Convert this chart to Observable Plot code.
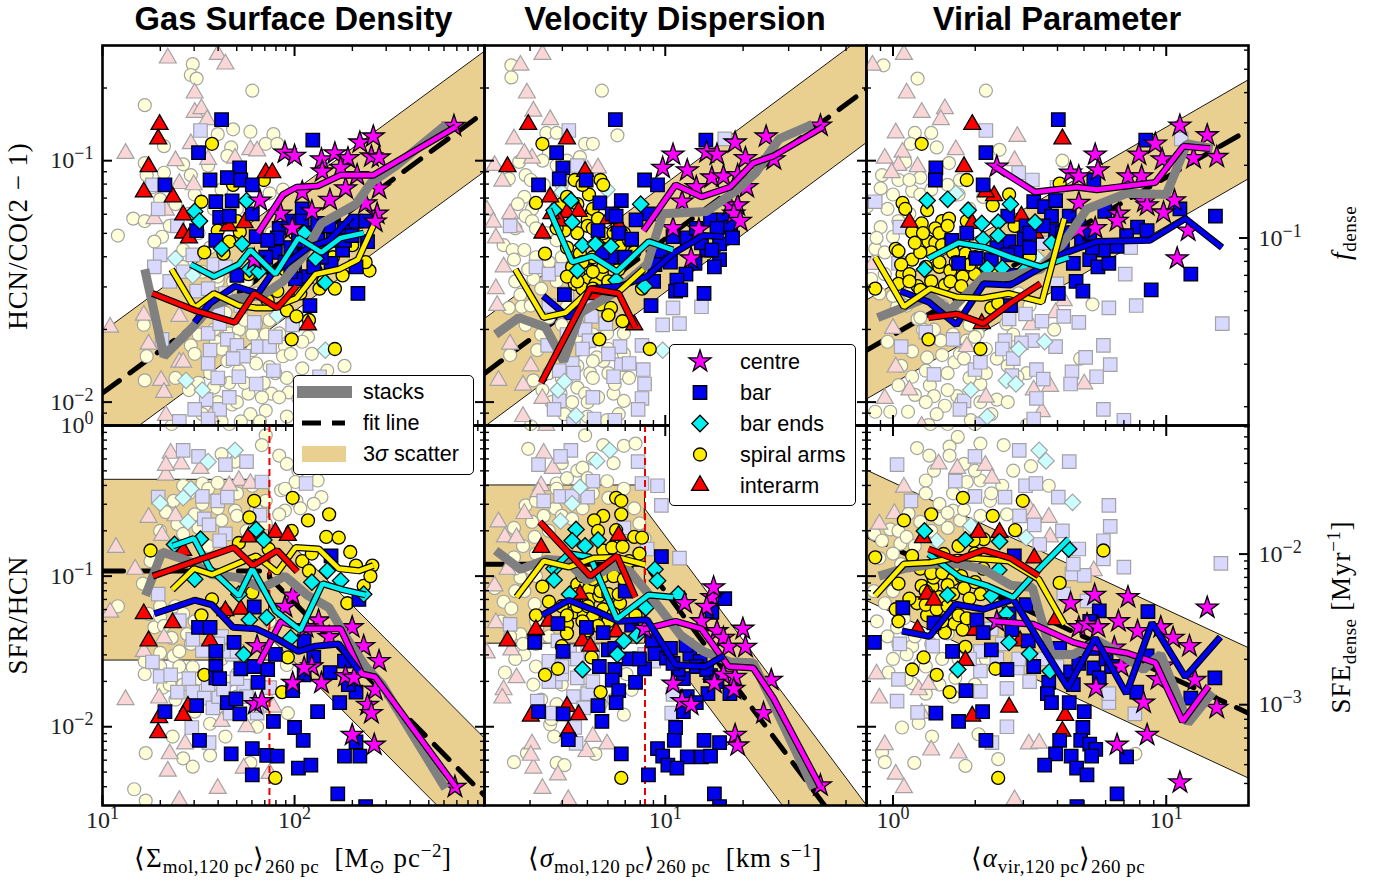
<!DOCTYPE html>
<html><head><meta charset="utf-8">
<script src="https://cdn.jsdelivr.net/npm/d3@7"></script>
<script src="https://cdn.jsdelivr.net/npm/@observablehq/plot@0.6"></script>
<style>
html,body{margin:0;background:#fff}
#c{position:relative;width:1384px;height:884px;overflow:hidden}
#c svg.plotsvg{position:absolute;left:0;top:0}
.t{position:absolute;transform:translate(-50%,-50%);white-space:nowrap;color:#000}
.title{font:bold 32.7px "Liberation Sans";line-height:1.15}
.m{font:27px "Liberation Serif";line-height:1.2;letter-spacing:.9px}
.m sub,.m sup{font-size:19px;line-height:0;letter-spacing:.5px}
.rot{transform:translate(-50%,-50%) rotate(-90deg)}
.lg{position:absolute;background:#fff;border:1.3px solid #000;border-radius:5px;box-sizing:border-box;z-index:5}
.lg div{position:absolute;font:21.6px "Liberation Sans";line-height:1;transform:translateY(-50%);white-space:nowrap;color:#000}
.lg svg{position:absolute;left:0;top:0;overflow:visible}
</style></head><body><div id="c"></div>
<script>
// ---- values are log10(x), log10(y) pairs ----
// stacks + running medians, top-left (HCN/CO vs Sigma)
const stacksTL=[[1.22,-1.45],[1.32,-1.81],[1.47,-1.69],[1.57,-1.6],[1.69,-1.57],[1.83,-1.56],[1.94,-1.5],[2.04,-1.4],[2.14,-1.26],[2.32,-1.18],[2.4,-1.09],[2.53,-1.02],[2.79,-.85]];
const lineCentreTL=[[1.81,-1.3],[1.94,-1.14],[2.01,-1.11],[2.12,-1.105],[2.24,-1.06],[2.41,-1.06],[2.84,-.86]];
const lineBarTL=[[1.48,-1.67],[1.56,-1.59],[1.69,-1.52],[1.81,-1.55],[1.88,-1.47],[1.97,-1.42],[2.07,-1.36],[2.18,-1.33],[2.3,-1.23]];
const lineEndsTL=[[1.46,-1.43],[1.58,-1.48],[1.71,-1.43],[1.77,-1.37],[1.9,-1.47],[2.02,-1.32],[2.14,-1.38],[2.24,-1.32],[2.36,-1.3]];
const lineArmTL=[[1.36,-1.45],[1.48,-1.61],[1.58,-1.55],[1.71,-1.6],[1.8,-1.61],[1.88,-1.61],[2.01,-1.57],[2.11,-1.47],[2.23,-1.45],[2.33,-1.41],[2.41,-1.27]];
const lineInterTL=[[1.26,-1.55],[1.48,-1.62],[1.69,-1.67],[1.79,-1.55],[1.91,-1.61],[2.01,-1.52]];
// top-centre
const stacksTC=[[.344,-1.72],[.434,-1.65],[.537,-1.69],[.607,-1.83],[.672,-1.63],[.8,-1.55],[.93,-1.43],[.99,-1.22],[1.16,-1.21],[1.28,-1.12],[1.35,-1.05],[1.44,-.91],[1.57,-.85]];
const lineCentreTC=[[.916,-1.29],[1.04,-1.1],[1.14,-1.15],[1.25,-1.11],[1.34,-1.01],[1.42,-.98],[1.61,-.86]];
const lineBarTC=[[.528,-1.56],[.627,-1.65],[.71,-1.53],[.826,-1.52],[.929,-1.48],[1.03,-1.385],[1.148,-1.31],[1.225,-1.315]];
const lineEndsTC=[[.55,-1.2],[.64,-1.42],[.717,-1.395],[.813,-1.46],[.936,-1.335],[1.03,-1.37]];
const lineArmTC=[[.42,-1.45],[.53,-1.65],[.614,-1.63],[.71,-1.535],[.813,-1.55],[.916,-1.45]];
const lineInterTC=[[.52,-1.92],[.71,-1.53],[.82,-1.55],[.884,-1.69]];
// top-right
const stacksTR=[[-.056,-1.65],[.033,-1.61],[.137,-1.56],[.21,-1.62],[.332,-1.48],[.417,-1.48],[.54,-1.45],[.624,-1.34],[.71,-1.2],[.856,-1.135],[1,-1.14],[1.075,-.93],[1.17,-.95]];
const lineCentreTR=[[.374,-1.025],[.52,-1.13],[.673,-1.11],[.746,-1.12],[.96,-1.09],[1.063,-.94],[1.16,-.95]];
const lineBarTR=[[.027,-1.54],[.13,-1.585],[.232,-1.68],[.332,-1.51],[.43,-1.515],[.545,-1.44],[.624,-1.385],[.746,-1.335],[.94,-1.33],[1.07,-1.24],[1.204,-1.36]];
const lineEndsTR=[[.13,-1.405],[.24,-1.34],[.338,-1.36],[.43,-1.4],[.54,-1.44],[.643,-1.4]];
const lineArmTR=[[-.065,-1.4],[.04,-1.605],[.137,-1.53],[.235,-1.565],[.325,-1.57],[.423,-1.55],[.545,-1.585],[.627,-1.24]];
const lineInterTR=[[.13,-1.65],[.235,-1.635],[.33,-1.675],[.43,-1.59],[.54,-1.51]];
// bottom-left
const stacksBL=[[1.224,-1.13],[1.31,-.84],[1.45,-.9],[1.57,-.99],[1.71,-1.01],[1.83,-1.08],[1.95,-1],[2.07,-1.13],[2.18,-1.21],[2.28,-1.43],[2.37,-1.6],[2.456,-1.72],[2.786,-2.41]];
const lineCentreBL=[[1.815,-1.58],[1.93,-1.3],[2.04,-1.35],[2.24,-1.35],[2.35,-1.65],[2.42,-1.67],[2.84,-2.4]];
const lineBarBL=[[1.27,-1.25],[1.48,-1.16],[1.57,-1.19],[1.68,-1.34],[1.8,-1.35],[1.9,-1.41],[2.02,-1.5],[2.11,-1.465],[2.23,-1.45],[2.335,-1.63]];
const lineEndsBL=[[1.366,-.8],[1.476,-.75],[1.56,-.95],[1.71,-1.13],[1.78,-.95],[1.9,-1.23],[2.03,-1.36],[2.145,-1.05],[2.25,-1.09],[2.37,-1.125]];
const lineArmBL=[[1.363,-1.09],[1.476,-.95],[1.57,-.99],[1.8,-.865],[1.91,-.975],[2.005,-.81],[2.127,-.82],[2.23,-.95],[2.335,-.965],[2.41,-.93]];
const lineInterBL=[[1.262,-1],[1.684,-.81],[1.783,-.93],[1.91,-.83],[2.014,-.97]];
// bottom-centre
const stacksBC=[[.344,-.83],[.44,-.955],[.54,-.89],[.62,-.9],[.695,-1.03],[.8,-.93],[.864,-.97],[.955,-1.16],[1.058,-1.39],[1.148,-1.5],[1.25,-1.57],[1.34,-1.575],[1.418,-1.85],[1.573,-2.41]];
const lineCentreBC=[[.916,-1.354],[1.04,-1.3],[1.14,-1.35],[1.245,-1.6],[1.34,-1.61],[1.418,-1.81],[1.6,-2.4]];
const lineBarBC=[[.524,-1.26],[.627,-1.16],[.73,-1.23],[.82,-1.3],[.93,-1.29],[1.04,-1.59],[1.154,-1.6],[1.225,-1.53]];
const lineEndsBC=[[.56,-.96],[.627,-.85],[.71,-.875],[.813,-1.285],[.936,-1.125],[1.03,-1.14]];
const lineArmBC=[[.425,-1.14],[.53,-.9],[.627,-.94],[.723,-.88],[.813,-.875],[.923,-.925]];
const lineInterBC=[[.515,-.64],[.71,-1],[.813,-.865],[.884,-1.14]];
// bottom-right
const stacksBR=[[-.052,-1],[.04,-.95],[.148,-.92],[.246,-.92],[.332,-.955],[.43,-1.06],[.51,-1.075],[.58,-1.52],[.66,-1.52],[.75,-1.43],[.82,-1.5],[.917,-1.62],[.98,-1.52],[1.08,-1.975],[1.17,-1.77]];
const lineCentreBR=[[.374,-1.3],[.515,-1.32],[.66,-1.44],[.734,-1.476],[.856,-1.51],[.96,-1.575],[1.06,-1.965],[1.155,-1.73]];
const lineBarBR=[[.033,-1.364],[.134,-1.4],[.228,-1.187],[.332,-1.22],[.44,-1.153],[.64,-1.74],[.74,-1.41],[.854,-1.78],[.948,-1.31],[1.07,-1.67],[1.198,-1.404]];
const lineEndsBR=[[.13,-.853],[.246,-1.01],[.344,-1.064],[.44,-1.142],[.54,-.942],[.643,-.753]];
const lineArmBR=[[-.065,-1.13],[.04,-.92],[.137,-.91],[.235,-.875],[.332,-.887],[.423,-.9],[.533,-1.02],[.627,-1.32]];
const lineInterBR=[[.13,-.82],[.235,-.893],[.332,-.827],[.43,-.88],[.533,-.998]];

// ---- faint points ----
const faintArmTL=[[1.47,-.6],[1.46,-.645],[1.49,-.66],[1.78,-.71],[1.22,-.77],[1.68,-.87],[1.6,-.89],[1.77,-.88],[1.89,-.89],[1.85,-.93],[1.91,-.93],[1.67,-.945],[1.65,-.98],[1.32,-.94],[1.22,-1.01],[1.42,-1.015],[1.46,-1.06],[1.32,-1.05],[1.23,-1.06],[1.48,-1.14],[1.26,-1.11],[1.16,-1.24],[1.22,-1.25],[1.08,-1.31],[1.31,-1.315],[1.27,-1.335],[1.87,-1.135],[1.745,-1.19],[1.94,-1.12],[1.42,-1.37],[1.215,-1.68],[1.23,-1.81],[1.22,-1.91],[1.46,-1.765],[1.59,-1.75],[1.66,-1.715],[1.71,-1.7],[1.87,-1.66],[1.92,-1.715],[1.95,-1.77],[2.07,-1.73],[2.04,-1.75],[2.09,-1.8],[2.26,-1.85],[2.04,-1.86],[2.17,-1.87],[1.96,-1.9],[1.97,-1.96],[2.02,-1.985],[1.88,-1.965],[1.76,-1.965],[1.83,-1.98],[1.66,-1.92],[1.61,-1.91],[1.675,-2.01],[1.77,-2.05],[1.85,-2.035],[1.96,-2.06],[1.65,-1.83],[1.56,-1.88],[1.94,-1.81],[1.36,-2.1],[1.62,-2.08],[1.48,-1.8],[1.78,-1.785],[1.87,-1.855],[1.71,-1.87],[1.8,-1.675],[1.62,-1.645],[1.73,-1.81],[1.69,-1.745],[1.83,-1.74],
[1.3,-1.16],[1.38,-1.18],[1.45,-1.22],[1.35,-1.27],[1.5,-1.3],[1.56,-1.36],[1.42,-1.44],[1.52,-1.46],[1.6,-1.5],[1.68,-1.5],[1.75,-1.5],[1.72,-1.58],[1.8,-1.55],[1.55,-1.62],[1.64,-1.63],[1.74,-1.66],[1.85,-1.72],[1.92,-1.62],[1.78,-1.72],[1.58,-1.7],[1.5,-1.72],[1.62,-1.78],[1.68,-1.82],[1.8,-1.84],[1.9,-1.88],[1.98,-1.8],[1.74,-1.92],[1.58,-1.94],[1.5,-1.92],[1.84,-1.92],[1.92,-1.98],[1.7,-2],[1.6,-2],[1.52,-2.05],[1.45,-1.95],[1.38,-1.9],[1.82,-2.08],[1.72,-2.08],[1.6,-1.48],[1.96,-1.38],[1.88,-1.3],[1.7,-1.2],[1.62,-1.12],[1.55,-1.02],[1.7,-1.08],[1.58,-1.2]];
const faintBarTL=[[1.51,-.875],[1.26,-1.1],[1.29,-1.2],[1.39,-1.27],[1.3,-1.39],[1.27,-1.44],[1.47,-1.39],[1.58,-1.43],[1.49,-1.54],[1.31,-1.74],[1.55,-1.715],[1.65,-1.74],[1.7,-1.765],[1.81,-1.77],[1.87,-1.77],[1.56,-1.785],[1.735,-1.81],[1.55,-1.84],[1.71,-1.895],[1.8,-1.925],[1.89,-1.87],[1.54,-1.99],[1.48,-2.03],[1.61,-2.03],[1.55,-2.07],[1.4,-2.08],[1.9,-1.73],[1.99,-1.68],[1.79,-1.67],[1.61,-1.675],[2.13,-1.895],[1.55,-1.53],[1.64,-1.55],[1.72,-1.6],[1.6,-1.62],[1.52,-1.62],[1.35,-1.5],[1.42,-1.46],[1.64,-1.44],[1.68,-1.82],[1.6,-1.9],[1.66,-1.98]];
const faintInterTL=[[1.34,-.575],[1.6,-.56],[1.64,-.6],[1.48,-.72],[1.48,-.8],[1.515,-.785],[1.545,-.83],[1.12,-.97],[1.46,-.93],[1.55,-.995],[1.77,-.955],[1.805,-.96],[1.69,-.99],[1.38,-1],[1.4,-1.095],[1.475,-1.1],[1.33,-1.205],[1.27,-1.24],[1.04,-1.69],[1.215,-1.64],[1.4,-1.645],[1.24,-1.76],[1.4,-1.835],[1.305,-1.91],[1.32,-1.96],[1.33,-2.055],[1.565,-2.06],[1.42,-1.835]];
const faintEndsTL=[[1.38,-1.405],[1.47,-1.475],[2.16,-1.785],[1.435,-1.91],[1.52,-1.95],[1.91,-1.64]];
const faintArmTC=[[.405,-.605],[.405,-.655],[.755,-.71],[.815,-.895],[.54,-.885],[.58,-.885],[.69,-.93],[.72,-.93],[.67,-.985],[.55,-.97],[.435,-1.005],[.525,-1],[.46,-1.06],[.395,-1.075],[.455,-1.15],[.43,-1.18],[.485,-1.2],[.46,-1.23],[.485,-1.25],[.375,-1.35],[.41,-1.37],[.455,-1.37],[.415,-1.41],[.49,-1.49],[.44,-1.555],[.445,-1.605],[.395,-1.61],[.505,-1.785],[.4,-1.805],[.49,-1.91],[.525,-1.95],[.66,-1.94],[.69,-1.965],[.8,-1.965],[.84,-1.995],[.805,-1.925],[.76,-1.83],[.735,-1.815],[.84,-1.715],[.71,-1.88],[.72,-1.83],[.775,-1.715],[.63,-2.01],[.61,-2.05],[.7,-2.06],[.775,-2.075],[.48,-2.1],[.66,-1.675],[.62,-1.605],[.67,-1.745],[.595,-1.965],[.825,-1.88],
[.48,-1.08],[.53,-1.1],[.58,-1.02],[.62,-1],[.5,-1.28],[.54,-1.3],[.58,-1.33],[.5,-1.4],[.55,-1.42],[.47,-1.45],[.6,-1.4],[.42,-1.5],[.52,-1.53],[.58,-1.5],[.48,-1.6],[.55,-1.65],[.6,-1.68],[.52,-1.72],[.46,-1.68],[.66,-1.73],[.72,-1.72],[.78,-1.78],[.84,-1.8],[.72,-1.9],[.66,-1.85],[.6,-1.9],[.55,-1.88],[.78,-1.88],[.86,-1.9],[.74,-1.98],[.64,-2],[.56,-2],[.7,-2],[.82,-2.05],[.6,-1.1],[.64,-1.05],[.42,-1.28]];
const faintBarTC=[[.627,-.875],[1.23,-.91],[.4,-1.27],[.5,-1.44],[.55,-1.47],[.715,-1.645],[1.03,-1.61],[.99,-1.68],[1.055,-1.675],[1.14,-1.605],[.69,-1.7],[.705,-1.745],[.825,-1.77],[.91,-1.765],[.83,-1.845],[.64,-1.84],[.59,-1.87],[.645,-1.88],[.8,-1.895],[.915,-1.865],[.92,-1.925],[.91,-1.985],[.59,-1.995],[.57,-2.03],[.895,-2.03],[.725,-2.07],[.805,-2.075],[.645,-2.09],[.77,-1.675],[.545,-1.765],[.62,-1.55],[.55,-1.6],[.62,-1.72],[.72,-1.58],[.78,-1.62],[.78,-1.8],[.72,-1.98],[.68,-1.78],[.86,-1.84],[.6,-1.45],[.66,-1.02]];
const faintInterTC=[[.525,-.56],[.44,-.605],[.465,-.72],[.49,-.795],[.555,-.83],[.415,-.91],[.34,-1.02],[.485,-.99],[.37,-1.085],[.31,-1.205],[.335,-1.255],[.4,-1.22],[.42,-1.275],[.345,-1.32],[.375,-1.44],[.345,-1.53],[.35,-1.6],[.4,-1.76],[.48,-1.85],[.355,-1.91],[.45,-1.93],[.525,-1.985],[.45,-2.06],[.7,-1.04],[.74,-1.03],[.455,-.97]];
const faintEndsTC=[[.99,-1.785],[.585,-1.95],[.61,-1.915],[.655,-2.055],[.775,-1.12],[.6,-1.13]];
const faintArmTR=[[-.035,-.605],[.09,-.66],[.34,-.71],[.08,-.885],[.14,-.885],[.065,-.93],[.16,-.945],[.39,-.955],[.045,-1.005],[.205,-1.01],[.62,-1],[-.04,-1.06],[.1,-1.07],[-.045,-1.115],[0,-1.14],[.07,-1.125],[.245,-1.08],[-.095,-1.19],[-.065,-1.365],[-.08,-1.49],[.73,-1.595],[.685,-1.82],[.59,-1.7],[.16,-1.735],[.31,-1.715],[.11,-1.7],[-.02,-1.75],[.07,-1.79],[.03,-1.85],[.125,-1.815],[.18,-1.805],[.225,-1.835],[.07,-1.895],[.135,-1.93],[.15,-1.975],[.235,-1.975],[.32,-1.925],[.38,-1.99],[.42,-2],[.19,-2.015],[-.065,-2.04],[-.01,-2.04],[.055,-2.04],[.285,-2.075],[.13,-2.095],[.49,-2.095],[.49,-1.88],[.455,-1.895],[.245,-1.8],[.175,-1.745],[.09,-1.655],[.015,-1.605],[.31,-1.88],[.27,-1.745],[-.045,-1.275],[0,-1.315],[.415,-1.675],
[.02,-1.08],[.06,-1.08],[.1,-1.14],[.14,-1.12],[.2,-1.1],[.24,-1.14],[-.02,-1.2],[.02,-1.25],[.06,-1.22],[-.06,-1.32],[-.03,-1.38],[.03,-1.43],[-.03,-1.47],[-.05,-1.55],[0,-1.56],[.05,-1.6],[.1,-1.65],[.15,-1.7],[.22,-1.72],[.28,-1.68],[.34,-1.78],[.38,-1.82],[.26,-1.82],[.2,-1.88],[.12,-1.87],[.02,-1.93],[.08,-1.97],[.2,-1.95],[.28,-1.9],[.34,-1.88],[.42,-1.85],[.25,-2],[.32,-2],[.12,-2],[.16,-2.05],[.36,-2.05],[.28,-1.2],[.33,-1.15],[.06,-1.55],[.18,-1.6],[.26,-1.6],[.3,-1.73],[.44,-1.72],[.5,-1.6],[.46,-1.55]];
const faintBarTR=[[.34,-.875],[-.065,-1.17],[.025,-1.275],[.02,-1.425],[.46,-1.05],[.51,-1.08],[.6,-1.11],[1.055,-.91],[.545,-1.34],[.87,-1.36],[.85,-1.47],[.6,-1.51],[.79,-1.61],[.89,-1.6],[1.205,-1.675],[.625,-1.645],[.68,-1.67],[.545,-1.665],[.485,-1.635],[.425,-1.655],[.77,-1.765],[.705,-1.815],[.795,-1.845],[.745,-1.895],[.655,-1.875],[.65,-1.925],[.595,-1.77],[.51,-1.745],[.47,-1.755],[.41,-1.745],[.4,-1.78],[.44,-1.82],[.03,-1.77],[.22,-1.74],[.12,-1.71],[.3,-1.865],[.15,-1.885],[.525,-1.865],[.55,-1.905],[.435,-1.89],[.525,-1.985],[.26,-1.995],[.245,-2.03],[.77,-2.03],[.845,-2.075],[.515,-2.07],[.325,-2.09],[.32,-1.835]];
const faintInterTR=[[.04,-.56],[-.075,-.605],[.05,-.72],[.105,-.8],[.19,-.785],[.175,-.83],[.01,-.885],[.455,-.9],[.23,-.955],[.035,-.965],[-.03,-.99],[.09,-1.025],[.02,-1.02],[-.005,-1.05],[.445,-1],[-.075,-1.43],[.625,-1.58],[.595,-1.63],[.505,-1.68],[0,-1.695],[.27,-1.77],[.01,-1.855],[.06,-1.95],[.34,-1.98],[.7,-1.925],[.575,-1.935],[.515,-1.95],[-.03,-1.985],[.545,-2.04],[.105,-2.1]];
const faintEndsTR=[[.23,-1.135],[.525,-1.4],[.555,-1.75],[.415,-1.91],[.45,-1.925],[.285,-1.95],[.345,-2.06],[.46,-1.78]];
const faintArmBL=[[1.36,.01],[1.66,.01],[1.85,-.065],[1.83,-.13],[1.92,-.2],[1.96,-.255],[1.62,-.19],[1.69,-.24],[2.02,-.3],[2.12,-.365],[2.005,-.375],[1.93,-.43],[1.52,-.385],[2.14,-.475],[2.1,-.52],[2.01,-.5],[1.95,-.565],[1.92,-.59],[1.37,-.5],[1.33,-.575],[1.62,-.63],[1.69,-.565],[1.39,-.655],[1.48,-.59],[1.21,-1.05],[1.08,-1.2],[1.27,-1.34],[1.44,-1.385],[1.3,-1.51],[1.37,-1.53],[1.22,-1.565],[1.22,-1.65],[1.47,-1.605],[1.315,-1.74],[1.56,-1.98],[1.365,-2.065],[1.64,-2.065],[1.225,-2.175],[1.42,-2.21],[1.47,-2.265],[1.56,-2.19],[1.77,-2.24],[1.165,-2.415],[1.225,-2.49],[1.965,-1.91],[1.805,-2],[1.87,-1.3],[1.96,-1.59],[1.4,-1.3],[1.36,-1.41],
[1.45,-.45],[1.52,-.52],[1.6,-.55],[1.7,-.45],[1.78,-.4],[1.85,-.5],[1.85,-.65],[1.75,-.7],[1.5,-.68],[1.42,-.72],[1.3,-.7],[1.25,-.9],[1.3,-1.2],[1.24,-1.25],[1.3,-1.27],[1.32,-1.33],[1.38,-1.2],[1.42,-1.25],[1.46,-1.45],[1.4,-1.5],[1.3,-1.6],[1.4,-1.6],[1.5,-1.68],[1.42,-1.72],[1.35,-1.72],[1.65,-1.7],[1.7,-1.65],[1.62,-1.55],[1.7,-.6],[1.95,-.42],[2.03,-.55],[1.8,-.56],[1.55,-.8],[1.48,-1.3],[1.55,-1.78],[1.38,-1.82],[1.48,-1.9],[1.6,-1.87],[1.7,-1.8],[1.85,-1.8],[1.55,-.42],[1.42,-.4],[1.6,-.38]];
const faintBarBL=[[1.42,-.165],[1.5,-.205],[1.64,-.26],[1.75,-.24],[1.83,-.375],[2.06,-.385],[1.29,-.475],[1.52,-.47],[1.6,-.5],[1.65,-.475],[1.82,-.595],[1.53,-.62],[1.555,-.66],[1.64,-.72],[1.61,-.765],[1.29,-1.12],[1.4,-1.295],[1.52,-1.495],[1.26,-1.57],[1.3,-1.665],[1.355,-1.655],[1.39,-1.77],[1.47,-1.77],[1.53,-1.81],[1.575,-1.875],[1.465,-2.005],[1.555,-2.105],[1.735,-1.73],[1.675,-1.52],[1.805,-1.91],[1.87,-1.74],[1.665,-1.91],[1.605,-1.8],[1.66,-1.5],[1.7,-1.5],[1.62,-1.4],[1.6,-1.45],[1.7,-1.68],[1.63,-1.75],[1.55,-1.72],[1.45,-1.68],[1.75,-1.8],[1.8,-1.86],[1.47,-1.42]];
const faintInterBL=[[1.56,.03],[1.355,-.185],[1.41,-.255],[1.51,-.285],[1.33,-.33],[1.33,-.265],[1.71,-.365],[1.66,-.4],[1.24,-.61],[1.31,-.73],[1.07,-.81],[1.17,-.955],[1.04,-1.24],[1.32,-1.41],[1.215,-1.5],[1.12,-1.82],[1.295,-1.81],[1.62,-1.965],[1.75,-2],[1.89,-1.87],[1.43,-2.115],[1.35,-2.18],[1.34,-2.295],[1.735,-2.275],[1.87,-2.31],[1.6,-2.41],[1.4,-2.49],[1.77,-.385],[1.38,-.6]];
const faintEndsBL=[[1.69,-.165],[1.55,-.24],[1.46,-.42],[1.42,-.48],[1.445,-.64],[1.3,-.515]];
const faintArmBC=[[.48,.01],[.69,-.065],[.47,-.155],[.76,-.13],[.84,-.135],[.885,-.12],[.8,-.25],[.66,-.3],[.775,-.37],[.58,-.385],[.6,-.25],[.415,-.68],[.485,-.64],[.46,-.53],[.575,-.55],[.495,-.74],[.34,-1.08],[.375,-1.17],[.405,-1.215],[.455,-1.1],[.495,-1.185],[.455,-1.52],[.38,-1.64],[.49,-1.72],[.55,-1.565],[.555,-1.985],[.57,-2.065],[.84,-1.92],[.465,-2.175],[.73,-2.18],[.415,-2.235],[.58,-2.24],[.61,-2.255],[.87,-1.755],[.415,-.875],[.44,-1.01],[.365,-1.3],[.505,-1.34],[.44,-1.385],
[.5,-.5],[.53,-.6],[.6,-.6],[.64,-.62],[.55,-.7],[.45,-.8],[.5,-.85],[.42,-.95],[.48,-.95],[.5,-1],[.42,-1.1],[.5,-1.3],[.4,-1.4],[.45,-1.45],[.5,-1.45],[.55,-1.4],[.42,-1.55],[.5,-1.6],[.56,-1.68],[.6,-1.72],[.52,-1.82],[.58,-1.85],[.62,-1.92],[.56,-1.95],[.62,-.35],[.68,-.28],[.72,-.22],[.7,-.35],[.65,-.45],[.72,-.45],[.78,-.48],[.84,-.42],[.88,-.55],[.68,-.55],[.9,-.65],[.92,-.75],[.6,-1.62],[.68,-1.68],[.75,-1.85],[.8,-1.82],[.85,-1.65],[.58,-.42]];
const faintBarBC=[[.635,-.165],[.595,-.205],[.51,-.26],[.895,-.24],[.72,-.37],[.91,-.385],[.97,-.4],[.985,-.53],[.53,-.5],[.595,-.47],[.64,-.47],[.7,-.475],[1.055,-.88],[.4,-1.32],[.585,-1.43],[.55,-1.565],[.575,-1.7],[.66,-1.675],[.645,-1.8],[.7,-1.78],[.685,-1.875],[.505,-1.83],[.565,-1.91],[.65,-2.005],[.655,-2.11],[.92,-1.52],[.955,-1.565],[1.025,-1.91],[1.03,-1.785],[.63,-1.5],[.84,-.68],[.93,-.82],[.66,-.9],[.7,-1.45],[.62,-1.55],[.6,-1.65],[.66,-1.55],[.72,-1.5],[.6,-1.6],[.72,-1.7],[.55,-1.7]];
const faintInterBC=[[.54,0],[.355,-.64],[.38,-.74],[.425,-.745],[.455,-.585],[.52,-.4],[.565,-.285],[.53,-.185],[.34,-1.065],[.39,-.955],[.345,-1.31],[.405,-1.49],[.31,-1.51],[.425,-1.675],[.375,-1.755],[.37,-1.81],[.485,-2.115],[.49,-2.275],[.72,-2.065],[.775,-2.115],[.695,-2.165],[.585,-2.32],[.525,-2.41],[.625,-2.485],[.48,-2.19],[.51,-.44]];
const faintEndsBC=[[.785,-.165],[.735,-.235],[.67,-.41],[.64,-.52],[.595,-.635]];
const faintArmBR=[[.137,.01],[.2,.01],[.3,.01],[.237,-.076],[.088,-.15],[.133,-.2],[.207,-.14],[.207,-.2],[.32,-.12],[.405,-.13],[.26,-.255],[.15,-.3],[.12,-.365],[.27,-.375],[.32,-.365],[.505,-.27],[.57,-.4],[.355,-.5],[.22,-.565],[.17,-.52],[.246,-.63],[.417,-.59],[.057,-.585],[-.068,-.72],[-.01,-.69],[.027,-.785],[-.04,-.765],[-.016,-1.64],[.07,-1.71],[.033,-2.005],[.094,-1.975],[.143,-2.065],[.313,-2.05],[-.04,-2.17],[-.03,-2.235],[.078,-2.24],[.265,-2.26],[.385,-2.215],[.887,-2.18],[.07,-1.465],[.32,-1.63],[.228,-1.675],[-.059,-1.3],[.015,-1.34],[.05,-1.52],
[.02,-.7],[.05,-.74],[.1,-.64],[.17,-.62],[.2,-.58],[.26,-.56],[.32,-.6],[.28,-.68],[.2,-.68],[.14,-.7],[.08,-.8],[0,-.85],[-.05,-.88],[.03,-.92],[0,-1.1],[-.07,-1.1],[-.03,-1.18],[.04,-1.28],[-.02,-1.4],[.02,-1.45],[.08,-1.4],[.14,-1.45],[0,-1.55],[.1,-1.58],[.18,-1.55],[.05,-1.68],[.12,-1.78],[.17,-1.72],[.24,-1.55],[.3,-1.5],[.34,-1.55],[.22,-1.8],[.3,-1.72],[.12,-1.9],[.36,-.45],[.3,-.3],[.4,-.4],[.22,-.45],[.12,-.45],[.44,-.3],[.2,-1.38],[.12,-1.6]];
const faintBarBR=[[.015,-.26],[.3,-.205],[.462,-.165],[.645,-.24],[.228,-.37],[.485,-.4],[.523,-.385],[.605,-.475],[.066,-.5],[.3,-.47],[.41,-.475],[.463,-.6],[.517,-.66],[.79,-.53],[.795,-.67],[.77,-.765],[.537,-.79],[.68,-.82],[.77,-.885],[1.2,-.915],[.845,-.94],[.655,-.985],[.7,-.995],[.625,-1.12],[.71,-1.165],[.025,-1.45],[.145,-1.465],[.02,-1.685],[.015,-1.83],[.09,-1.905],[.32,-1.765],[.417,-1.745],[.79,-1.84],[.885,-1.915],[.417,-2],[.362,-2.105],[.455,-1.61],[.32,-1.63],[.79,-1.78],[.3,-1.35],[.36,-1.35],[.4,-1.45],[.38,-1.55],[.32,-1.5],[.28,-1.55],[.46,-1.55],[.55,-1.55],[.6,-1.6],[.5,-1.7],[.62,-.7],[.66,-.92]];
const faintInterBR=[[.04,-.41],[.167,-.255],[.235,-.285],[.338,-.265],[.362,-.35],[.5,-.555],[.57,-.61],[.515,-.59],[.005,-.585],[-.05,-.655],[.735,-.965],[-.06,-1.65],[-.05,-1.81],[.095,-1.755],[.13,-1.72],[.105,-1.91],[-.03,-2.12],[.14,-2.155],[.24,-2.175],[.497,-2.115],[.535,-2.11],[.01,-2.315],[.04,-2.405],[.445,-2.485],[.575,-.74]];
const faintEndsBR=[[.535,-.165],[.56,-.235],[.657,-.51],[.487,-.745],[.285,-.665],[.16,-.765]];

// ---- bright points ----
const barTL=[[1.62,-.83],[2.095,-.915],[1.5,-.967],[1.714,-1.03],[1.56,-1.08],[1.65,-1.07],[1.72,-1.08],[1.78,-1.1],[1.325,-1.1],[1.59,-1.17],[1.675,-1.166],[1.78,-1.22],[1.61,-1.235],[1.66,-1.23],[1.49,-1.29],[1.59,-1.33],[2.04,-1.2],[2.04,-1.25],[1.92,-1.28],[1.91,-1.32],[1.9,-1.38],[1.85,-1.4],[1.8,-1.315],[2.18,-1.27],[2.26,-1.28],[2.32,-1.25],[2.37,-1.25],[2.38,-1.335],[2.25,-1.37],[2.19,-1.425],[2.32,-1.44],[2.06,-1.48],[1.7,-1.475],[2.33,-1.55],[2.08,-1.6],[2.005,-1.49],[1.97,-1.25],[1.98,-1.36],[2,-1.42],[2.08,-1.3],[2.12,-1.33],[2.14,-1.4],[2.2,-1.33],[2.26,-1.33],[2.3,-1.31],[1.95,-1.42],[2.12,-1.26],[2.02,-1.33],[1.86,-1.33],[1.98,-1.46],[2.1,-1.44]];
const armTL=[[1.57,-.93],[1.84,-1.08],[1.515,-1.17],[1.6,-1.29],[1.715,-1.295],[1.66,-1.335],[1.53,-1.38],[1.63,-1.385],[2.39,-1.455],[2.37,-1.42],[2.21,-1.53],[2.13,-1.53],[2.25,-1.475],[1.96,-1.62],[2.01,-1.645],[2.075,-1.66],[1.985,-1.74],[2.21,-1.78],[2.11,-1.455],[1.91,-1.54],[2.3,-1.35],[1.95,-1.45],[2.03,-1.55],[2.15,-1.5],[2.2,-1.4],[2,-1.3],[1.86,-1.58],[1.76,-1.47],[1.7,-1.25],[1.68,-1.1]];
const interTL=[[1.297,-.85],[1.29,-.91],[1.24,-1.025],[1.215,-1.13],[1.366,-1.15],[1.42,-1.225],[1.42,-1.3],[1.45,-1.32],[1.655,-1.27],[1.74,-1.257],[1.85,-1.05],[1.884,-1.05],[2.07,-1.68]];
const endsTL=[[1.48,-1.21],[1.75,-1.166],[1.505,-1.25],[1.727,-1.345],[1.62,-1.364],[1.765,-1.45],[1.814,-1.46],[2.16,-1.505],[2.11,-1.405],[2.05,-1.3]];
const centreTL=[[1.95,-.967],[2,-.98],[2.14,-.995],[2.21,-.97],[2.34,-.925],[2.41,-.9],[2.278,-.99],[2.4,-.983],[2.44,-.987],[2.144,-1.045],[2.24,-1.03],[2.326,-1.06],[2.266,-1.115],[2.44,-1.115],[2.184,-1.163],[2.09,-1.21],[2.04,-1.13],[1.82,-1.166],[1.927,-1.22],[1.988,-1.28],[2.43,-1.22],[2.42,-1.253],[2.37,-1.177],[1.79,-1.41],[2.83,-.856]];
const barTC=[[.807,-.83],[1.157,-.915],[.58,-.967],[.604,-1.03],[.59,-1.075],[.51,-1.1],[.694,-1.08],[.92,-1.08],[.97,-1.1],[.747,-1.175],[.83,-1.165],[.795,-1.22],[.81,-1.23],[.935,-1.22],[.887,-1.245],[.74,-1.29],[.82,-1.3],[.87,-1.325],[1.03,-1.315],[1.085,-1.32],[1.175,-1.245],[1.225,-1.245],[1.253,-1.275],[1.21,-1.345],[1.16,-1.37],[1.115,-1.425],[1.21,-1.41],[1.19,-1.44],[1.08,-1.47],[1.045,-1.495],[1.04,-1.54],[1.06,-1.535],[.955,-1.5],[1.15,-1.55],[.945,-1.6],[.61,-1.555],[.79,-1.4],[.845,-1.4],[.755,-1.38],[.985,-1.385],[1.12,-1.28],[1.2,-1.28],[1.26,-1.32],[1.14,-1.34],[1.18,-1.37],[1.02,-1.42],[.96,-1.43]];
const armTC=[[.525,-.93],[.65,-1.08],[.75,-1.08],[.76,-1.1],[.705,-1.14],[.5,-1.175],[.715,-1.215],[.7,-1.245],[.7,-1.27],[.6,-1.205],[.61,-1.29],[.815,-1.27],[.775,-1.315],[.535,-1.385],[.825,-1.355],[.72,-1.4],[.67,-1.385],[.71,-1.455],[.65,-1.51],[.7,-1.495],[.73,-1.51],[.755,-1.47],[.8,-1.425],[.68,-1.53],[.91,-1.53],[.75,-1.595],[.79,-1.61],[.78,-1.64],[.835,-1.665],[.745,-1.74],[.94,-1.78],[.72,-1.28],[.76,-1.3],[.8,-1.3],[.84,-1.3],[.86,-1.33],[.74,-1.35],[.78,-1.38],[.66,-1.3],[.62,-1.36],[.64,-1.44],[.68,-1.42],[.76,-1.44],[.72,-1.46],[.62,-1.48],[.66,-1.5],[.78,-1.5],[.72,-1.2],[.74,-1.24],[.66,-1.18],[.8,-1.22],[.6,-1.18],[.58,-1.28],[.68,-1.1],[.62,-1.15],[.82,-1.45],[.72,-1.53],[.88,-1.38]];
const interTC=[[.47,-.85],[.62,-.91],[.39,-1.025],[.69,-1.045],[.555,-1.15],[.62,-1.215],[.665,-1.21],[.59,-1.25],[.525,-1.3],[.88,-1.68],[.735,-1.555],[.56,-1.22],[.82,-1.27],[.78,-1.24]];
const endsTC=[[.635,-1.165],[.57,-1.205],[.64,-1.255],[.905,-1.18],[.68,-1.35],[.73,-1.345],[.79,-1.355],[.66,-1.455],[.81,-1.495],[.92,-1.52]];
const centreTC=[[1.03,-.975],[.99,-1.03],[1.085,-1.04],[1.16,-.965],[1.2,-.975],[1.27,-.925],[1.39,-.9],[1.31,-.99],[1.18,-1.07],[1.225,-1.065],[1.28,-1.06],[1.12,-1.11],[1.065,-1.17],[1.25,-1.185],[1.28,-1.185],[1.265,-1.22],[1.29,-1.25],[1.03,-1.28],[1.13,-1.285],[1.1,-1.405],[1.42,-.995],[1.6,-.855],[1.315,-1.11]];
const barTR=[[.605,-.83],[.925,-.915],[.34,-.967],[.157,-1.03],[.155,-1.08],[.33,-1.1],[.515,-1.17],[.555,-1.19],[.595,-1.165],[.58,-1.23],[.42,-1.23],[.487,-1.27],[.27,-1.3],[.215,-1.33],[.425,-1.335],[.48,-1.325],[.595,-1.29],[.645,-1.23],[.69,-1.33],[.775,-1.21],[.895,-1.275],[.93,-1.29],[.855,-1.31],[1.05,-1.2],[1.18,-1.23],[.82,-1.355],[.66,-1.425],[.72,-1.41],[.75,-1.44],[.79,-1.425],[.67,-1.5],[.695,-1.54],[.605,-1.55],[.945,-1.535],[1.09,-1.47],[.24,-1.425],[.305,-1.405],[.36,-1.41],[.435,-1.475],[.43,-1.6],[.45,-1.38],[.735,-1.08],[.5,-1.3],[.55,-1.27],[.62,-1.3],[.62,-1.36],[.68,-1.27],[.72,-1.3],[.77,-1.37],[.73,-1.36],[.38,-1.36],[.42,-1.39],[.5,-1.36]];
const armTR=[[.105,-.93],[.27,-1.08],[.425,-1.14],[.365,-1.185],[.035,-1.175],[.045,-1.2],[.125,-1.205],[.105,-1.26],[.07,-1.295],[.18,-1.25],[.205,-1.24],[.155,-1.28],[.13,-1.335],[.155,-1.34],[.01,-1.365],[.02,-1.375],[.07,-1.41],[.035,-1.47],[.02,-1.51],[-.065,-1.53],[.09,-1.52],[.1,-1.535],[.17,-1.44],[.21,-1.455],[.19,-1.515],[.255,-1.48],[.3,-1.47],[.265,-1.385],[.36,-1.61],[.385,-1.59],[.13,-1.74],[.32,-1.78],[.445,-1.27],[.61,-1.095],[.5,-1.4],[.11,-1.3],[.17,-1.3],[.2,-1.27],[.14,-1.38],[.1,-1.38],[.18,-1.35],[.22,-1.38],[.08,-1.34],[.12,-1.44],[.17,-1.42],[.23,-1.42],[.28,-1.43],[.14,-1.5],[.21,-1.5],[.25,-1.52],[.3,-1.4],[.33,-1.43],[.03,-1.43],[.06,-1.47],[.27,-1.25],[.36,-1.45],[.06,-1.5]];
const interTR=[[.29,-.85],[.62,-.91],[.26,-1.025],[.37,-1.145],[.34,-1.13],[.06,-1.255],[.52,-1.3],[.47,-1.23],[.29,-1.26],[.325,-1.675]];
const endsTR=[[.125,-1.165],[.2,-1.16],[.275,-1.205],[.325,-1.26],[.385,-1.255],[.43,-1.18],[.52,-1.255],[.385,-1.31],[.33,-1.325],[.115,-1.45],[.345,-1.445],[.4,-1.445],[.48,-1.455],[.58,-1.34]];
const centreTR=[[.74,-.975],[.75,-1.04],[.65,-1.05],[.68,-1.065],[.86,-1.065],[.91,-1.065],[.9,-.975],[.96,-.93],[.985,-.995],[1.05,-.855],[1.15,-.895],[1.185,-.985],[1.1,-.99],[.68,-1.175],[.825,-1.22],[.82,-1.25],[.92,-1.17],[.93,-1.185],[.99,-1.215],[1.03,-1.165],[1.08,-1.29],[1.04,-1.405],[.74,-1.28],[.38,-1.025],[.68,-1.285]];
const barBL=[[1.5,-1.34],[1.56,-1.34],[1.685,-1.44],[1.59,-1.5],[1.59,-1.6],[1.72,-1.615],[1.79,-1.6],[1.86,-1.62],[1.9,-1.52],[1.59,-1.675],[1.61,-1.68],[1.81,-1.705],[2.05,-1.655],[2.1,-1.54],[2.185,-1.64],[1.99,-1.76],[1.49,-1.86],[1.325,-1.9],[1.65,-1.84],[1.695,-1.815],[1.715,-1.915],[2.235,-1.84],[2.12,-1.9],[1.89,-1.965],[2,-2.005],[2.045,-2.09],[1.505,-2.09],[1.67,-2.18],[1.78,-2.145],[1.855,-2.19],[1.91,-2.195],[2.02,-2.275],[2.085,-2.255],[1.78,-2.32],[2.26,-2.195],[2.34,-2.195],[2.32,-2.1],[2.225,-2.445],[2.37,-2.53],[2.32,-1.77],[2.26,-1.565],[2.05,-1.43],[1.79,-1.205],[2.19,-.865],[2.335,-1.155],[2.28,-1.72]];
const armBL=[[1.79,-.5],[1.765,-.61],[1.99,-.48],[2.18,-.59],[2.07,-.63],[1.985,-.7],[2.165,-.74],[2.23,-.745],[2.29,-.84],[1.25,-.83],[1.71,-.78],[2.405,-.93],[2.36,-1.065],[2.395,-1],[2.32,-.93],[2.275,-1.18],[1.515,-1.26],[1.965,-1.54],[1.53,-1.655],[1.935,-1.77],[1.9,-2.34],[2.04,-.9],[2.09,-.85],[1.865,-.82],[1.78,-1.11],[2.075,-.965],[1.57,-1.155],[1.64,-1.24]];
const interBL=[[1.76,-.74],[1.9,-.71],[1.965,-.73],[1.42,-.83],[1.215,-1.25],[1.365,-1.31],[1.24,-1.43],[1.56,-1.43],[1.445,-1.865],[1.42,-1.925],[1.295,-1.94],[1.29,-2.04],[1.72,-1.22],[1.64,-1.23]];
const endsBL=[[1.375,-.79],[1.51,-.755],[1.8,-.69],[1.84,-.76],[1.48,-1.02],[1.71,-1.12],[1.765,-1.29],[1.855,-1.275],[1.735,-1.52],[1.98,-1.41],[2.09,-1.04],[2.17,-.965],[2.24,-1.03],[2.36,-1.12]];
const centreBL=[[1.99,-1.13],[1.95,-1.205],[2.125,-1.295],[2.18,-1.405],[2.3,-1.34],[2.36,-1.465],[2.44,-1.565],[1.805,-1.465],[2.09,-1.6],[2.05,-1.61],[1.99,-1.71],[2.14,-1.71],[2.265,-1.665],[2.42,-1.755],[1.795,-1.85],[1.83,-1.83],[2.38,-1.855],[2.4,-1.91],[2.3,-2.055],[2.415,-2.12],[2.835,-2.4],[2.06,-1.34],[2.31,-1.675]];
const barBC=[[.985,-.87],[1.23,-1.15],[1.18,-1.24],[.495,-1.44],[.585,-1.315],[.605,-1.5],[.695,-1.34],[.76,-1.375],[.78,-1.49],[.805,-1.48],[.845,-1.1],[.87,-1.325],[.95,-1.43],[.96,-1.515],[1.005,-1.545],[1.095,-1.52],[1.135,-1.565],[.745,-1.6],[.805,-1.62],[.92,-1.615],[.795,-1.69],[.885,-1.705],[.82,-1.76],[.81,-1.84],[.74,-1.86],[.605,-1.915],[.51,-1.9],[.755,-1.965],[.625,-2.085],[.83,-2.18],[1.07,-1.68],[1.175,-1.66],[1.165,-1.78],[1.085,-1.8],[1.12,-1.84],[1.07,-1.9],[1.25,-1.78],[1.04,-2.005],[1.035,-2.09],[1.15,-2.09],[1.21,-2.105],[.97,-2.145],[.99,-2.195],[1.085,-2.2],[1.14,-2.2],[1.175,-2.195],[1.01,-2.255],[1.045,-2.275],[.935,-2.32],[1.19,-2.445],[1.21,-2.53],[1.02,-1.48],[1.08,-1.46],[1.05,-1.62],[1.12,-1.6],[1.16,-1.62],[1.2,-1.7],[.86,-1.55],[.9,-1.55],[1.03,-1.58]];
const armBC=[[.81,-.48],[.83,-.5],[.76,-.6],[.83,-.59],[.725,-.63],[.74,-.7],[.81,-.695],[.88,-.74],[.91,-.745],[.76,-.83],[.795,-.81],[.835,-.805],[.9,-.85],[.85,-.955],[.525,-1.07],[.66,-1.055],[.705,-1.085],[.55,-1.17],[.705,-1.155],[.745,-1.13],[.825,-1.18],[.5,-1.26],[.645,-1.24],[.685,-1.26],[.73,-1.3],[.62,-1.32],[.715,-1.54],[.535,-1.655],[.585,-1.615],[.75,-1.77],[.83,-2.34],[.885,-1.26],[.6,-1.465],[.76,-1],[.8,-1],[.84,-1.02],[.72,-1.02],[.68,-1],[.75,-1.1],[.78,-1.12],[.82,-1.12],[.66,-1.12],[.6,-1.2],[.66,-1.2],[.7,-1.2],[.76,-1.22],[.8,-1.25],[.72,-1.27],[.78,-1.3],[.68,-1.3],[.62,-1.26],[.74,-1.33],[.7,-1.36],[.86,-.9],[.62,-1.38]];
const interBC=[[.52,-.81],[.5,-1.355],[.55,-1.3],[.39,-1.43],[.68,-1.43],[.71,-1.465],[.81,-1.37],[.48,-1.93],[.62,-1.865],[.665,-1.92],[.625,-2.03],[.82,-.73],[.67,-1.12]];
const endsBC=[[.655,-.69],[.64,-.765],[.69,-.8],[.74,-.76],[.57,-.95],[.57,-1.025],[.96,-.955],[.97,-1.03],[.63,-1.12],[.925,-1.21],[1.05,-1.12],[.84,-1.43],[.89,-1.395],[.815,-1.52],[.68,-1.62]];
const centreBC=[[1.18,-1.14],[1.075,-1.18],[1.16,-1.205],[1.14,-1.3],[1.3,-1.35],[1.2,-1.365],[1.225,-1.41],[1.245,-1.47],[1.31,-1.47],[1.03,-1.715],[1.225,-1.655],[1.27,-1.67],[1.19,-1.71],[1.265,-1.75],[1.41,-1.69],[1.065,-1.83],[1.1,-1.855],[1.38,-1.91],[1.27,-2.055],[1.28,-2.125],[1.6,-2.39],[.92,-1.35],[1.187,-1.075]];
const barBR=[[.036,-1.21],[-.068,-1.44],[.15,-1.31],[.307,-1.29],[.33,-1.375],[.444,-.865],[.425,-1.25],[.487,-1.19],[.435,-1.355],[.495,-1.43],[.218,-1.5],[.36,-1.49],[.417,-1.62],[.515,-1.6],[.755,-1.23],[.933,-1.235],[.61,-1.48],[.72,-1.3],[.735,-1.61],[.755,-1.675],[.65,-1.635],[.57,-1.705],[.565,-1.78],[.58,-1.84],[.645,-1.84],[.7,-1.9],[.267,-1.76],[.157,-1.91],[.24,-1.965],[.328,-1.9],[.34,-2.09],[.695,-2.005],[.61,-2.09],[.687,-2.09],[.72,-2.115],[.742,-2.15],[.595,-2.18],[.652,-2.195],[.727,-2.195],[.855,-2.2],[.555,-2.255],[.672,-2.275],[.71,-2.32],[.82,-2.445],[.673,-2.53],[.892,-1.77],[.93,-1.53],[1.178,-1.675],[1.09,-1.81],[.73,-1.48],[.78,-1.55],[.66,-1.72],[.68,-1.58],[.8,-1.6]];
const armBR=[[.256,-.48],[.475,-.5],[.365,-.6],[.14,-.59],[.04,-.63],[.447,-.695],[-.065,-.875],[.07,-.865],[.332,-.755],[.77,-.83],[.61,-1.045],[.02,-1.05],[.105,-1.065],[.144,-1.07],[.205,-1.03],[.088,-1.18],[.01,-1.22],[.02,-1.3],[.125,-1.26],[.19,-1.375],[.225,-1.315],[.255,-1.355],[.265,-1.47],[.112,-1.54],[.07,-1.62],[.16,-1.655],[.375,-1.615],[.207,-1.77],[.385,-2.34],[.173,-1.16],[.148,-1.01],[.22,-.955],[.295,-.765],[.185,-.853],[.32,-1.12],[.1,-.95],[.14,-.98],[.18,-.98],[.22,-1.02],[.2,-1.06],[.25,-1],[.12,-1.1],[.17,-1.14],[.22,-1.12],[.26,-1.08],[.28,-1.15],[.12,-1.19],[.16,-1.22],[.2,-1.2],[.3,-1.04],[.26,-.9],[.3,-.85],[.24,-.8],[.33,-.95],[.06,-1.15],[.18,-1.3],[.24,-1.26],[.27,-1.28]];
const interBR=[[.11,-.745],[.39,-.71],[.313,-.71],[.517,-.88],[.125,-1.12],[.15,-1.16],[.595,-1.29],[.09,-1.355],[.3,-1.36],[.265,-1.56],[.63,-1.925],[.425,-1.87],[.29,-1.93],[.62,-2.03],[.465,-1.43]];
const endsBR=[[.115,-.7],[.265,-.76],[.39,-.77],[.387,-.96],[.643,-.82],[.2,-1.125],[.36,-1.13],[.5,-1.515],[.237,-1.62],[.425,-1.44],[.575,-1.63],[.415,-1.25]];
const centreBR=[[.738,-1.125],[.65,-1.18],[.86,-1.14],[1.15,-1.21],[.68,-1.34],[.71,-1.32],[.75,-1.34],[.825,-1.3],[.895,-1.365],[.98,-1.34],[1.025,-1.41],[1.085,-1.465],[.835,-1.6],[.99,-1.595],[.97,-1.685],[.743,-1.74],[1.105,-1.69],[.917,-1.84],[1.185,-1.875],[.93,-2.055],[.82,-2.12],[1.05,-2.37],[.38,-1.3],[.81,-1.475]];

// ---- fit lines and scatter bands: [x, y] and [x, low, high] ----
const fitTL=[[10,.0109],[975,.159]], bandTL=[[10,.00614,.0194],[975,.0895,.282]];
const fitTC=[[2,.01315],[60,.198]], bandTC=[[2,.00785,.022],[60,.118,.332]];
const fitTR=[[.8,.0164],[20,.134]], bandTR=[[.8,.01023,.0263],[20,.0836,.215]];
const fitBL=[[10,.108],[74,.108],[74,.098],[975,.0035]], flatBL=[[10,.0275,.436],[74,.0275,.436]], bandBL=[[74,.0395,.229],[975,.00145,.0084]];
const fitBC=[[2,.12],[8.35,.12],[60,.00127]], flatBC=[[2,.0356,.4],[8.35,.0356,.4]], bandBC=[[8.35,.05,.28],[60,.00054,.00302]];
const fitBR=[[.8,.186],[20,.0123]], bandBR=[[.8,.0686,.504],[20,.00454,.0333]];

// axes
const xDomains=[[10,975],[2,60],[.8,20]];
const yDomains=[[.008,.3],[.003,1]];
const fDenseFactor=2.09, sfeFactor=.0714;
const rightMajor=[[.1],[.01,.001]];

const C={centre:"#ff00ff",bar:"#0000f0",ends:"#00f0f0",arm:"#ffee00",inter:"#ff0000",stack:"#808080"};
const faint={arm:"#ffffd8",bar:"#d9d9ff",inter:"#fbd6d6",ends:"#ccffff"};
const R={square:7.6,circle:6.5,triangle:6.3,diamond2:7.4,star:6.9};
const panels=[
 {c:0,r:0,bands:[bandTL],fit:fitTL,stack:stacksTL,l:[lineCentreTL,lineBarTL,lineEndsTL,lineArmTL,lineInterTL],f:[faintArmTL,faintInterTL,faintBarTL,faintEndsTL],p:[armTL,interTL,barTL,endsTL,centreTL]},
 {c:1,r:0,bands:[bandTC],fit:fitTC,stack:stacksTC,l:[lineCentreTC,lineBarTC,lineEndsTC,lineArmTC,lineInterTC],f:[faintArmTC,faintInterTC,faintBarTC,faintEndsTC],p:[armTC,interTC,barTC,endsTC,centreTC]},
 {c:2,r:0,bands:[bandTR],fit:fitTR,stack:stacksTR,l:[lineCentreTR,lineBarTR,lineEndsTR,lineArmTR,lineInterTR],f:[faintArmTR,faintInterTR,faintBarTR,faintEndsTR],p:[armTR,interTR,barTR,endsTR,centreTR]},
 {c:0,r:1,bands:[flatBL,bandBL],fit:fitBL,rule:74,stack:stacksBL,l:[lineCentreBL,lineBarBL,lineEndsBL,lineArmBL,lineInterBL],f:[faintArmBL,faintInterBL,faintBarBL,faintEndsBL],p:[armBL,interBL,barBL,endsBL,centreBL]},
 {c:1,r:1,bands:[flatBC,bandBC],fit:fitBC,rule:8.35,stack:stacksBC,l:[lineCentreBC,lineBarBC,lineEndsBC,lineArmBC,lineInterBC],f:[faintArmBC,faintInterBC,faintBarBC,faintEndsBC],p:[armBC,interBC,barBC,endsBC,centreBC]},
 {c:2,r:1,bands:[bandBR],fit:fitBR,stack:stacksBR,l:[lineCentreBR,lineBarBR,lineEndsBR,lineArmBR,lineInterBR],f:[faintArmBR,faintInterBR,faintBarBR,faintEndsBR],p:[armBR,interBR,barBR,endsBR,centreBR]}
];
const W=1384,H=884,L=[102,484,866],T=[45,425],SZ=382,SY=380;
const minorOf=(dom)=>{const o=[];for(let e=-6;e<4;e++)for(const m of [2,3,4,5,6,7,8,9]){const v=m*10**e;if(v>dom[0]*1.001&&v<dom[1]*.999)o.push(v)}return o};
const majorOf=(dom)=>{const o=[];for(let e=-6;e<4;e++){const v=10**e;if(v>=dom[0]&&v<=dom[1])o.push(+v.toPrecision(3))}return o};
const pw=d=>[10**d[0],10**d[1]];
const sup=v=>"10^"+Math.round(Math.log10(v));
const serif="Liberation Serif";
const root=document.getElementById("c");

panels.forEach(p=>{
 const xd=xDomains[p.c], yd=yDomains[p.r];
 const xmaj=majorOf(xd), xmin=minorOf(xd), ymaj=majorOf(yd), ymin=minorOf(yd);
 const fac=p.r==0?fDenseFactor:sfeFactor;
 const rd=[yd[0]*fac,yd[1]*fac];
 const rmaj=rightMajor[p.r].map(v=>v/fac), rmin=minorOf(rd).map(v=>v/fac);
 const sty={clip:true};
 const marks=[];
 p.bands.forEach(b=>marks.push(Plot.areaY(b,{x:d=>d[0],y1:d=>d[1],y2:d=>d[2],fill:"#e9cf90",stroke:"#000",strokeWidth:.9,...sty})));
 marks.push(Plot.line(p.fit,{x:d=>d[0],y:d=>d[1],stroke:"#000",strokeWidth:5,strokeDasharray:"21 13",...sty}));
 const dot=(data,symbol,fill,stroke,sw)=>Plot.dot(data.map(pw),{x:d=>d[0],y:d=>d[1],symbol,r:R[symbol],fill,stroke,strokeWidth:sw,...sty});
 marks.push(dot(p.f[0],"circle",faint.arm,"#a3a3a3",1.2));
 marks.push(dot(p.f[1],"triangle",faint.inter,"#a3a3a3",1.2));
 marks.push(dot(p.f[2],"square",faint.bar,"#a3a3a3",1.2));
 marks.push(dot(p.f[3],"diamond2",faint.ends,"#a3a3a3",1.2));
 if(p.rule) marks.push(Plot.ruleX([p.rule],{stroke:"#f00000",strokeWidth:2,strokeDasharray:"7 4"}));
 marks.push(dot(p.p[0],"circle",C.arm,"#000",1.3));
 marks.push(dot(p.p[1],"triangle",C.inter,"#000",1.3));
 marks.push(dot(p.p[2],"square",C.bar,"#000",1.3));
 marks.push(dot(p.p[3],"diamond2",C.ends,"#000",1.3));
 marks.push(dot(p.p[4],"star",C.centre,"#000",1.3));
 const ln=(data,color,w)=>Plot.line(data.map(pw),{x:d=>d[0],y:d=>d[1],stroke:color,strokeWidth:w,strokeLinejoin:"miter",strokeLinecap:"butt",...sty});
 marks.push(ln(p.stack,C.stack,9));
 const cols=[C.centre,C.bar,C.ends,C.arm,C.inter];
 [0,1,2,3,4].forEach(i=>{marks.push(ln(p.l[i],"#000",7));marks.push(ln(p.l[i],cols[i],4.6));});
 const none=()=>"";
 const tick=(fn,vals,anchor,size,w)=>fn(vals,{anchor,tickSize:-size,tickFormat:none,label:null,strokeWidth:w});
 for(const a of ["bottom","top"]){marks.push(tick(Plot.axisX,xmaj,a,10,2));marks.push(tick(Plot.axisX,xmin,a,5,1.4));}
 marks.push(tick(Plot.axisY,ymaj,"left",10,2));marks.push(tick(Plot.axisY,ymin,"left",5,1.4));
 if(p.c<2){marks.push(tick(Plot.axisY,ymaj,"right",10,2));marks.push(tick(Plot.axisY,ymin,"right",5,1.4));}
 else{marks.push(tick(Plot.axisY,rmaj,"right",10,2));marks.push(tick(Plot.axisY,rmin,"right",5,1.4));}
 const lab={tickSize:0,label:null,fontFamily:serif,fontSize:24,fill:"#222"};
 if(p.r==1) marks.push(Plot.axisX(xmaj,{...lab,anchor:"bottom",tickPadding:5,tickFormat:sup}));
 if(p.c==0) marks.push(Plot.axisY(ymaj,{...lab,anchor:"left",tickPadding:9,tickFormat:sup}));
 if(p.c==2) marks.push(Plot.axisY(rmaj,{...lab,anchor:"right",tickPadding:10,tickFormat:v=>sup(v*fac)}));
 marks.push(Plot.frame({stroke:"#000",strokeWidth:2.6}));
 const svg=Plot.plot({width:W,height:H,marginLeft:L[p.c],marginRight:W-L[p.c]-SZ,marginTop:T[p.r],marginBottom:H-T[p.r]-SY,
  x:{type:"log",domain:xd},y:{type:"log",domain:yd},style:{background:"transparent",overflow:"visible",maxWidth:"none"},marks});
 svg.classList.add("plotsvg");
 svg.style.position="absolute";svg.style.left="0";svg.style.top="0";
 svg.querySelectorAll("text").forEach(t=>{
  const s=t.textContent;
  if(!s){t.remove();return;}
  if(s.includes("^")){const [a,b]=s.split("^");
   t.textContent="";
   const n1=document.createElementNS("http://www.w3.org/2000/svg","tspan");n1.textContent=a;
   const n2=document.createElementNS("http://www.w3.org/2000/svg","tspan");n2.textContent=b.replace("-","\u2212");
   n2.setAttribute("dy","-9");n2.setAttribute("font-size","18");
   t.appendChild(n1);t.appendChild(n2);}
 });
 root.appendChild(svg);
});

// ---- titles and axis titles ----
const put=(cls,html,x,y)=>{const d=document.createElement("div");d.className="t "+cls;d.innerHTML=html;d.style.left=x+"px";d.style.top=y+"px";root.appendChild(d);};
const titles=["Gas Surface Density","Velocity Dispersion","Virial Parameter"];
[293.5,675,1057].forEach((x,i)=>put("title",titles[i],x,19));
put("m","\u27e8\u03a3<sub>mol,120 pc</sub>\u27e9<sub>260 pc</sub> &nbsp;[M<sub>\u2299</sub> pc<sup>\u22122</sup>]",293,858);
put("m","\u27e8<i>\u03c3</i><sub>mol,120 pc</sub>\u27e9<sub>260 pc</sub> &nbsp;[km s<sup>\u22121</sup>]",675,858);
put("m","\u27e8<i>\u03b1</i><sub>vir,120 pc</sub>\u27e9<sub>260 pc</sub>",1058,858);
put("m rot","HCN/CO(2 \u2212 1)",18,236);
put("m rot","SFR/HCN",18,615);
put("m rot","<i>f</i><sub>dense</sub>",1341,233);
put("m rot","SFE<sub>dense</sub> [Myr<sup>\u22121</sup>]",1341,617);

// ---- legends ----
const legend=(x,y,w,h,rows)=>{
 const b=document.createElement("div");b.className="lg";b.style.cssText=`left:${x}px;top:${y}px;width:${w}px;height:${h}px`;
 const s=d3.create("svg").attr("width",w).attr("height",h);
 rows.forEach(r=>{r.draw(s,r.y);const t=document.createElement("div");t.style.left=r.tx+"px";t.style.top=r.y+"px";t.innerHTML=r.label;b.appendChild(t);});
 b.appendChild(s.node());root.appendChild(b);
};
const symDraw=(sym,size,fill)=>(s,y)=>s.append("path").attr("d",d3.symbol(sym,size)()).attr("transform",`translate(30,${y})`).attr("fill",fill).attr("stroke","#000").attr("stroke-width",1.3);
legend(293,375,181,100,[
 {y:16,tx:69,label:"stacks",draw:(s,y)=>s.append("rect").attr("x",3).attr("y",y-6).attr("width",55).attr("height",12).attr("fill",C.stack)},
 {y:47,tx:69,label:"fit line",draw:(s,y)=>s.append("line").attr("x1",8).attr("x2",51).attr("y1",y).attr("y2",y).attr("stroke","#000").attr("stroke-width",5).attr("stroke-dasharray","19 11")},
 {y:78,tx:69,label:"3<i>\u03c3</i> scatter",draw:(s,y)=>s.append("rect").attr("x",8).attr("y",y-8).attr("width",44).attr("height",16).attr("fill","#e9cf90")}
]);
legend(669,344,187,162,[
 {y:16.5,tx:70,label:"centre",draw:symDraw(d3.symbolStar,Math.PI*R.star*R.star,C.centre)},
 {y:47.5,tx:70,label:"bar",draw:symDraw(d3.symbolSquare,Math.PI*R.square*R.square,C.bar)},
 {y:78.5,tx:70,label:"bar ends",draw:symDraw(d3.symbolDiamond2,Math.PI*R.diamond2*R.diamond2,C.ends)},
 {y:109.5,tx:70,label:"spiral arms",draw:symDraw(d3.symbolCircle,Math.PI*R.circle*R.circle,C.arm)},
 {y:140.5,tx:70,label:"interarm",draw:symDraw(d3.symbolTriangle,Math.PI*R.triangle*R.triangle,C.inter)}
]);
</script></body></html>
